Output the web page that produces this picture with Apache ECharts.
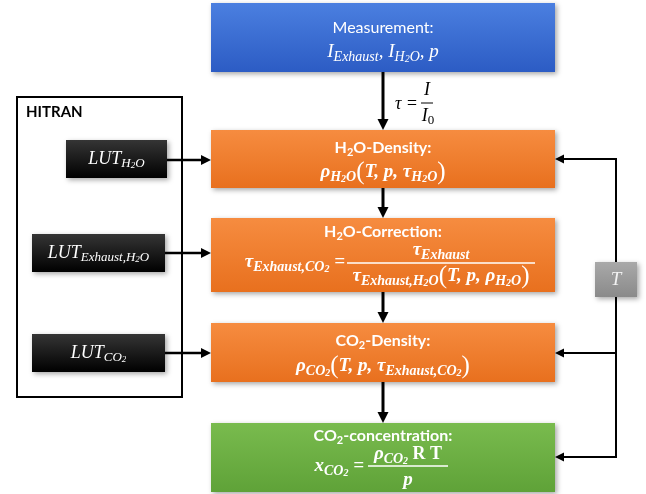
<!DOCTYPE html>
<html><head><meta charset="utf-8">
<script src="https://cdn.jsdelivr.net/npm/echarts@6/dist/echarts.min.js"></script>
<style>html,body{margin:0;padding:0;background:#fff}#c{width:646px;height:494px}</style>
</head><body><div id="c"></div>
<script>
// ---------- content ----------
const stepNames = ['Measurement', 'H2O-Density', 'H2O-Correction', 'CO2-Density', 'CO2-concentration'];
const stepTitles = [
  '{t|Measurement:}',
  '{tb|H}{tbs|2}{tb|O-Density:}',
  '{tb|H}{tbs|2}{tb|O-Correction:}',
  '{tb|CO}{tbs|2}{tb|-Density:}',
  '{tb|CO}{tbs|2}{tb|-concentration:}'
];
const stepFormulas = [
  '{mi|I}{ms|Exhaust}{mi|, I}{ms|H}{mss|2}{ms|O}{mi|, p}',
  '{mb|ρ}{mbs|H}{mbss|2}{mbs|O}{par|(}{mb|T, p, τ}{mbs|H}{mbss|2}{mbs|O}{par|)}',
  '{mb|τ}{mbs|Exhaust,CO}{mbss|2}{mb| =}',
  '{mb|ρ}{mbs|CO}{mbss|2}{par|(}{mb|T, p, τ}{mbs|Exhaust,CO}{mbss|2}{par|)}',
  '{mb|x}{mbs|CO}{mbss|2}{mb| =}'
];
const stepNumerators = ['', '', '{mb|τ}{mbs|Exhaust}', '', '{mb|ρ}{mbs|CO}{mbss|2}{rb| R T}'];
const stepDenominators = ['', '', '{mb|τ}{mbs|Exhaust,H}{mbss|2}{mbs|O}{par|(}{mb|T, p, ρ}{mbs|H}{mbss|2}{mbs|O}{par|)}', '', '{mb|p}'];
const lutLabels = ['{l|LUT}{ls|H}{lss|2}{ls|O}', '{l|LUT}{ls|Exhaust,H}{lss|2}{ls|O}', '{l|LUT}{ls|CO}{lss|2}'];
const frameLabel = 'HITRAN';
const tLabel = '{tt|T}';
const tauLhs = '{ki|τ =}';
const tauNum = '{ki|I}';
const tauDen = '{ki|I}{ks|0}';

// ---------- layout ----------
const STEP_X = [211, 555];
const stepRows = [[3, 72], [130, 188], [218, 292], [323, 382], [423, 492]];
const stepTitleY = [28, 148, 232, 341, 436];
const stepFormulaY = [52, 172, 262, 366, 466];
const fracLayout = [null, null,
  {lhsRight: 345, bar: [347, 535], barY: 263, numY: 250, denY: 276},
  null,
  {lhsRight: 364, bar: [368, 448], barY: 466, numY: 454, denY: 480}];
const stepColors = [['#4b7fe0', '#2c5cc4'], ['#f68c40', '#e8701e'], ['#f68c40', '#e8701e'], ['#f68c40', '#e8701e'], ['#79bb4e', '#5fa238']];
const lutBoxes = [[66, 140, 167, 178], [32, 234, 165, 272], [32, 334, 165, 372]];
const frameBox = [17, 97, 182, 397];
const frameLabelPos = [26, 112];
const tBox = [595, 262, 637, 297];
const tauPos = {lhsRight: 418, y: 104, bar: [421, 433], barY: 103, numY: 90, denY: 116};
const arrowPaths = [
  {from: [383, 72], to: [383, 130], w: 3, head: 11},
  {from: [383, 188], to: [383, 218], w: 3, head: 11},
  {from: [383, 292], to: [383, 323], w: 3, head: 11},
  {from: [383, 382], to: [383, 423], w: 3, head: 11},
  {from: [167, 160], to: [211, 160], w: 2.5, head: 10},
  {from: [165, 253], to: [211, 253], w: 2.5, head: 10},
  {from: [165, 353], to: [211, 353], w: 2.5, head: 10},
  {from: [616, 159], to: [555, 159], w: 2, head: 9},
  {from: [616, 353], to: [555, 353], w: 2, head: 9},
  {from: [616, 457], to: [555, 457], w: 2, head: 9},
  {from: [616, 158], to: [616, 458], w: 2, head: 0}
];

const SERIF = '"Liberation Serif","DejaVu Serif",serif';
const SANS = 'Lato,"Open Sans",sans-serif';
function mk(o) { return Object.assign({fontFamily: SERIF}, o); }
const RICH = {
  t: {fontFamily: SANS, fontSize: 16, lineHeight: 20},
  tb: {fontFamily: SANS, fontSize: 16, fontWeight: 'bold', lineHeight: 20},
  tbs: {fontFamily: SANS, fontSize: 11, fontWeight: 'bold', lineHeight: 10, verticalAlign: 'bottom'},
  mi: mk({fontStyle: 'italic', fontSize: 19, lineHeight: 24}),
  ms: mk({fontStyle: 'italic', fontSize: 14, lineHeight: 12, verticalAlign: 'bottom'}),
  mss: mk({fontStyle: 'italic', fontSize: 10, lineHeight: 8, verticalAlign: 'bottom'}),
  mb: mk({fontStyle: 'italic', fontWeight: 'bold', fontSize: 19, lineHeight: 24}),
  mbs: mk({fontStyle: 'italic', fontWeight: 'bold', fontSize: 14, lineHeight: 12, verticalAlign: 'bottom'}),
  mbss: mk({fontStyle: 'italic', fontWeight: 'bold', fontSize: 10, lineHeight: 8, verticalAlign: 'bottom'}),
  rb: mk({fontWeight: 'bold', fontSize: 18, lineHeight: 24}),
  par: mk({fontSize: 25, lineHeight: 24}),
  l: mk({fontStyle: 'italic', fontSize: 18, lineHeight: 22}),
  ls: mk({fontStyle: 'italic', fontSize: 13, lineHeight: 11, verticalAlign: 'bottom'}),
  lss: mk({fontStyle: 'italic', fontSize: 9, lineHeight: 7, verticalAlign: 'bottom'}),
  tt: mk({fontStyle: 'italic', fontSize: 19, lineHeight: 22}),
  ki: mk({fontStyle: 'italic', fontSize: 18, lineHeight: 22}),
  ks: mk({fontSize: 13, lineHeight: 11, verticalAlign: 'bottom'})
};

function grad(c) {
  return new echarts.graphic.LinearGradient(0, 0, 0, 1, [{offset: 0, color: c[0]}, {offset: 1, color: c[1]}]);
}
function txt(x, y, text, align, fill) {
  return {type: 'text', style: {x: x, y: y, text: text, rich: RICH, fill: fill,
    align: align, textAlign: align, verticalAlign: 'middle', textVerticalAlign: 'middle'}};
}
function rectOf(api, b) {
  const p0 = api.coord([b[0], b[1]]), p1 = api.coord([b[2], b[3]]);
  return {x: p0[0], y: p0[1], width: p1[0] - p0[0], height: p1[1] - p0[1]};
}
const SHADOW = {shadowBlur: 5, shadowOffsetX: 2, shadowOffsetY: 2, shadowColor: 'rgba(0,0,0,0.35)'};

function stepItem(params, api) {
  const i = params.dataIndex;
  const r = rectOf(api, [STEP_X[0], stepRows[i][0], STEP_X[1], stepRows[i][1]]);
  const cx = r.x + r.width / 2;
  const ch = [{type: 'rect', shape: r, style: Object.assign({fill: grad(stepColors[i])}, SHADOW)}];
  ch.push(txt(cx, api.coord([0, stepTitleY[i]])[1], stepTitles[i], 'center', '#fff'));
  const fy = api.coord([0, stepFormulaY[i]])[1];
  const f = fracLayout[i];
  if (!f) {
    ch.push(txt(cx, fy, stepFormulas[i], 'center', '#fff'));
  } else {
    ch.push(txt(api.coord([f.lhsRight, 0])[0], fy, stepFormulas[i], 'right', '#fff'));
    const b0 = api.coord([f.bar[0], f.barY]), b1 = api.coord([f.bar[1], f.barY]);
    ch.push({type: 'line', shape: {x1: b0[0], y1: b0[1], x2: b1[0], y2: b1[1]}, style: {stroke: '#fff', lineWidth: 1.5}});
    const bc = (b0[0] + b1[0]) / 2;
    ch.push(txt(bc, api.coord([0, f.numY])[1], stepNumerators[i], 'center', '#fff'));
    ch.push(txt(bc, api.coord([0, f.denY])[1], stepDenominators[i], 'center', '#fff'));
  }
  return {type: 'group', children: ch};
}
function lutItem(params, api) {
  const i = params.dataIndex;
  const r = rectOf(api, lutBoxes[i]);
  return {type: 'group', children: [
    {type: 'rect', shape: r, style: Object.assign({fill: grad(['#353535', '#000000'])}, SHADOW)},
    txt(r.x + r.width / 2, r.y + r.height / 2, lutLabels[i], 'center', '#fff')
  ]};
}
function frameItem(params, api) {
  const r = rectOf(api, frameBox);
  const lp = api.coord(frameLabelPos);
  return {type: 'group', children: [
    {type: 'rect', shape: r, style: {fill: 'none', stroke: '#000', lineWidth: 2}},
    {type: 'text', style: {x: lp[0], y: lp[1], text: frameLabel, fill: '#000',
      font: 'bold 15px ' + SANS, align: 'left', textAlign: 'left', verticalAlign: 'middle', textVerticalAlign: 'middle'}}
  ]};
}
function arrowItem(params, api) {
  const a = arrowPaths[params.dataIndex];
  const s = api.coord(a.from), e = api.coord(a.to);
  const dx = e[0] - s[0], dy = e[1] - s[1];
  const L = Math.hypot(dx, dy), ux = dx / L, uy = dy / L;
  const hl = a.head;
  const bx = e[0] - ux * hl, by = e[1] - uy * hl;
  const nx = -uy, ny = ux;
  const ch = [{type: 'line', shape: {x1: s[0], y1: s[1], x2: hl ? bx + ux : e[0], y2: hl ? by + uy : e[1]}, style: {stroke: '#000', lineWidth: a.w}}];
  if (hl) ch.push({type: 'polygon', shape: {points: [[e[0], e[1]], [bx + nx * hl / 2, by + ny * hl / 2], [bx - nx * hl / 2, by - ny * hl / 2]]}, style: {fill: '#000'}});
  return {type: 'group', children: ch};
}
function tItem(params, api) {
  const r = rectOf(api, tBox);
  return {type: 'group', children: [
    {type: 'rect', shape: r, style: Object.assign({fill: grad(['#a9a9a9', '#8a8a8a'])}, SHADOW)},
    txt(r.x + r.width / 2, r.y + r.height / 2, tLabel, 'center', '#f2f2f2')
  ]};
}
function tauItem(params, api) {
  const p = tauPos;
  const b0 = api.coord([p.bar[0], p.barY]), b1 = api.coord([p.bar[1], p.barY]);
  const bc = (b0[0] + b1[0]) / 2;
  return {type: 'group', children: [
    txt(api.coord([p.lhsRight, 0])[0], api.coord([0, p.y])[1], tauLhs, 'right', '#000'),
    {type: 'line', shape: {x1: b0[0], y1: b0[1], x2: b1[0], y2: b1[1]}, style: {stroke: '#000', lineWidth: 1}},
    txt(bc, api.coord([0, p.numY])[1], tauNum, 'center', '#000'),
    txt(bc + 1, api.coord([0, p.denY])[1], tauDen, 'center', '#000')
  ]};
}
function idx(arr) { return arr.map((n, i) => ({name: String(n), value: [i, i]})); }

const chart = echarts.init(document.getElementById('c'), null, {renderer: 'canvas'});
chart.setOption({
  animation: false,
  backgroundColor: '#fff',
  grid: {left: 0, right: 0, top: 0, bottom: 0},
  xAxis: {type: 'value', min: 0, max: 646, show: false},
  yAxis: {type: 'value', min: 0, max: 494, inverse: true, show: false},
  series: [
    {type: 'custom', name: 'frame', renderItem: frameItem, data: idx([frameLabel])},
    {type: 'custom', name: 'arrows', renderItem: arrowItem, data: idx(arrowPaths.map((a, i) => 'a' + i))},
    {type: 'custom', name: 'steps', renderItem: stepItem, data: idx(stepNames)},
    {type: 'custom', name: 'luts', renderItem: lutItem, data: idx(lutLabels)},
    {type: 'custom', name: 'T', renderItem: tItem, data: idx(['T'])},
    {type: 'custom', name: 'tau', renderItem: tauItem, data: idx(['tau'])}
  ]
});
</script></body></html>
